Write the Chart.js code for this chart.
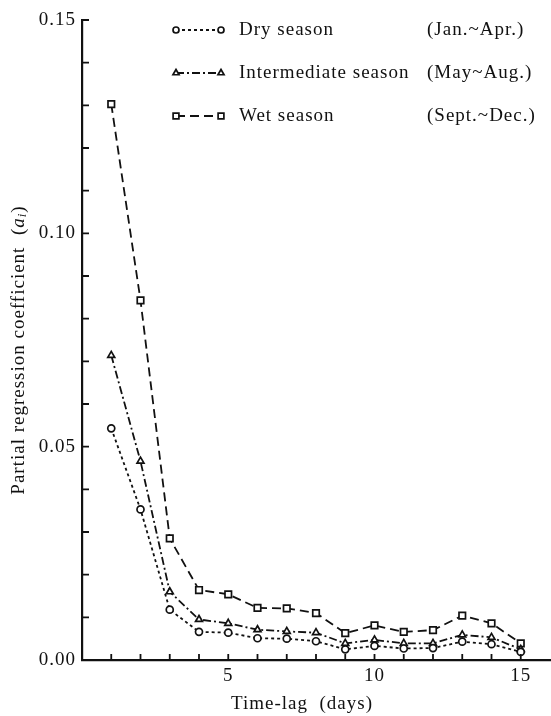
<!DOCTYPE html>
<html>
<head>
<meta charset="utf-8">
<script src="https://cdn.jsdelivr.net/npm/chart.js@4"></script>
<style>
  html, body { margin: 0; padding: 0; background: #fff; overflow: hidden; }
  #wrap { width: 551px; height: 716px; position: relative; }
</style>
</head>
<body>
<div id="wrap"><canvas id="lagChart"></canvas></div>
<script>
// time-lag (days) and partial regression coefficients per season
var lags = [1, 2, 3, 4, 5, 6, 7, 8, 9, 10, 11, 12, 13, 14, 15];
var drySeason = [0.0543, 0.0353, 0.0118, 0.0066, 0.0064, 0.0051, 0.0050, 0.0044, 0.0025, 0.0033, 0.0027, 0.0028, 0.0043, 0.0037, 0.0019];
var intermediateSeason = [0.0714, 0.0466, 0.0160, 0.0095, 0.0086, 0.0071, 0.0067, 0.0064, 0.0039, 0.0047, 0.0039, 0.0039, 0.0059, 0.0053, 0.0025];
var wetSeason = [0.1303, 0.0843, 0.0285, 0.0164, 0.0154, 0.0122, 0.0121, 0.0110, 0.0063, 0.0081, 0.0066, 0.0070, 0.0104, 0.0086, 0.0039];
var seasonNames = ['Dry season', 'Intermediate season', 'Wet season'];
var seasonMonths = ['(Jan.~Apr.)', '(May~Aug.)', '(Sept.~Dec.)'];
var yTickLabels = [0, 0.05, 0.10, 0.15];
var xTickLabels = [5, 10, 15];

var serif = "'Liberation Serif', 'Times New Roman', serif";
Chart.defaults.font.family = serif;
Chart.defaults.font.size = 19;
Chart.defaults.color = '#111';

function pts(vals) {
  return lags.map(function(x, i) { return { x: x, y: vals[i] }; });
}

var styles = [
  { dash: [3, 3], point: 'circle', radius: 3.5 },
  { dash: [8, 3, 2, 3], point: 'triangle', radius: 4 },
  { dash: [9, 5], point: 'rect', radius: 4.6 }
];

var datasets = [drySeason, intermediateSeason, wetSeason].map(function(vals, i) {
  return {
    label: seasonNames[i],
    data: pts(vals),
    borderColor: '#111',
    borderWidth: 1.8,
    borderDash: styles[i].dash,
    pointStyle: styles[i].point,
    pointRadius: styles[i].radius,
    pointBorderWidth: 1.7,
    pointBackgroundColor: '#fff',
    pointBorderColor: '#111',
    tension: 0
  };
});

// inward ticks, legend block and axis titles
var extras = {
  id: 'extras',
  beforeDraw: function(chart) {
    chart.ctx.letterSpacing = '1px';
  },
  afterDraw: function(chart) {
    var ctx = chart.ctx;
    var xs = chart.scales.x, ys = chart.scales.y;
    var area = chart.chartArea;
    ctx.save();
    ctx.strokeStyle = '#111';
    ctx.lineWidth = 1.8;
    ctx.setLineDash([]);
    ctx.beginPath();
    for (var k = 0; k <= 15; k++) {
      var py = ys.getPixelForValue(k / 100);
      ctx.moveTo(area.left, py);
      ctx.lineTo(area.left + 7, py);
    }
    lags.forEach(function(v) {
      var px = xs.getPixelForValue(v);
      ctx.moveTo(px, area.bottom);
      ctx.lineTo(px, area.bottom - 6);
    });
    ctx.stroke();

    // legend
    var rows = [30, 73, 116];
    ctx.font = '19px ' + serif;
    ctx.fillStyle = '#111';
    ctx.textBaseline = 'middle';
    ctx.textAlign = 'left';
    rows.forEach(function(ry, i) {
      ctx.lineWidth = 1.8;
      ctx.setLineDash(styles[i].dash);
      ctx.beginPath();
      ctx.moveTo(176, ry);
      ctx.lineTo(221, ry);
      ctx.stroke();
      ctx.setLineDash([]);
      ctx.lineWidth = 1.7;
      ctx.fillStyle = '#fff';
      [176, 221].forEach(function(mx) {
        Chart.helpers.drawPoint(ctx, { pointStyle: styles[i].point, radius: styles[i].radius - 0.5, rotation: 0, borderWidth: 1.7 }, mx, ry);
      });
      ctx.fillStyle = '#111';
      ctx.fillText(seasonNames[i], 239, ry);
      ctx.fillText(seasonMonths[i], 427, ry);
    });

    // x title
    ctx.textAlign = 'center';
    ctx.fillText('Time-lag  (days)', 302, 704);

    // y title with italic a_i
    ctx.translate(19, 350);
    ctx.rotate(-Math.PI / 2);
    var main = 'Partial regression coefficient  (';
    ctx.font = '19px ' + serif;
    var w1 = ctx.measureText(main).width;
    ctx.font = 'italic 19px ' + serif;
    var w2 = ctx.measureText('a').width;
    ctx.font = '13px ' + serif;
    var w3 = ctx.measureText('i').width;
    ctx.font = '19px ' + serif;
    var w4 = ctx.measureText(')').width;
    var x0 = -(w1 + w2 + w3 + w4) / 2;
    ctx.textAlign = 'left';
    ctx.fillText(main, x0, 0);
    ctx.font = 'italic 19px ' + serif;
    ctx.fillText('a', x0 + w1, 0);
    ctx.font = 'italic 13px ' + serif;
    ctx.fillText('i', x0 + w1 + w2, 4);
    ctx.font = '19px ' + serif;
    ctx.fillText(')', x0 + w1 + w2 + w3, 0);
    ctx.restore();
  }
};

new Chart(document.getElementById('lagChart').getContext('2d'), {
  type: 'line',
  data: { datasets: datasets },
  options: {
    responsive: true,
    maintainAspectRatio: false,
    animation: false,
    layout: { autoPadding: false, padding: { top: 20, right: 1, bottom: 0, left: 0 } },
    plugins: { legend: { display: false }, tooltip: { enabled: false } },
    scales: {
      x: {
        type: 'linear',
        min: 0,
        max: 16,
        afterFit: function(s) { s.height = 56; s.paddingLeft = 0; s.paddingRight = 0; },
        afterBuildTicks: function(s) { s.ticks = xTickLabels.map(function(v) { return { value: v }; }); },
        ticks: { padding: 5, maxRotation: 0, callback: function(v) { return String(v); } },
        grid: { display: false, drawTicks: false },
        border: { display: true, color: '#111', width: 2.2 }
      },
      y: {
        min: 0,
        max: 0.15,
        afterFit: function(s) { s.width = 82; },
        afterBuildTicks: function(s) { s.ticks = yTickLabels.map(function(v) { return { value: v }; }); },
        ticks: { padding: 6, callback: function(v) { return v.toFixed(2); } },
        grid: { display: false, drawTicks: false },
        border: { display: true, color: '#111', width: 2.2 }
      }
    }
  },
  plugins: [extras]
});
</script>
</body>
</html>
